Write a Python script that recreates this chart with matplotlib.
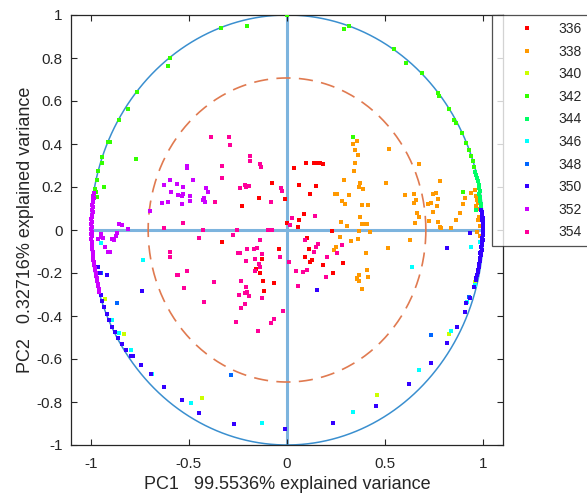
import numpy as np
import matplotlib
matplotlib.use("Agg")
import matplotlib.pyplot as plt
from matplotlib.lines import Line2D

plt.rcParams['font.family'] = ['Liberation Sans', 'DejaVu Sans']

labels = ['336', '338', '340', '342', '344', '346', '348', '350', '352', '354']
colors = ['#ff0000', '#ff9900', '#ccff00', '#33ff00', '#00ff66',
          '#00ffff', '#0066ff', '#3300ff', '#cc00ff', '#ff0099']

g336 = [(-0.074, 0.217), (-0.141, 0.150), (-0.228, 0.113), (-0.009, 0.144), (0.001, 0.031),
        (0.035, 0.290), (0.099, 0.310), (0.135, 0.313), (0.157, 0.313), (0.169, 0.310),
        (0.182, 0.306), (0.060, 0.209), (0.150, 0.206), (0.115, 0.167), (0.086, 0.073),
        (0.060, 0.045), (0.057, 0.014), (-0.330, -0.056), (-0.042, -0.088), (-0.125, -0.133),
        (-0.157, -0.183), (-0.135, -0.200), (-0.123, -0.236), (-0.064, -0.248), (-0.115, -0.282),
        (0.104, -0.036), (0.111, -0.090), (0.091, -0.124), (0.115, -0.147), (0.126, -0.138),
        (0.182, -0.163), (0.230, -0.006), (0.286, -0.152), (0.232, -0.199)]

g338 = [(0.359, 0.415), (0.338, 0.400), (0.347, 0.374), (0.364, 0.349), (0.520, 0.378),
        (0.671, 0.307), (0.345, 0.313), (0.340, 0.273), (0.289, 0.231), (0.372, 0.220),
        (0.367, 0.200), (0.389, 0.192), (0.503, 0.217), (0.243, 0.167), (0.257, 0.167),
        (0.316, 0.164), (0.279, 0.135), (0.296, 0.119), (0.384, 0.116), (0.413, 0.115),
        (0.600, 0.163), (0.649, 0.167), (0.657, 0.141), (0.649, 0.127), (0.778, 0.228),
        (0.746, 0.167), (0.759, 0.174), (0.771, 0.146), (0.734, 0.127), (0.718, 0.120),
        (0.764, 0.110), (0.746, 0.082), (0.661, 0.079), (0.673, 0.059), (0.725, 0.043),
        (0.768, 0.039), (0.372, 0.060), (0.274, 0.036), (0.308, 0.020), (0.381, 0.029),
        (0.396, 0.026), (0.408, 0.028), (0.652, 0.033), (0.780, 0.013), (0.272, -0.031),
        (0.325, -0.050), (0.362, -0.043), (0.367, -0.003), (0.425, -0.009), (0.250, -0.081),
        (0.238, -0.093), (0.401, -0.107), (0.515, -0.084), (0.627, -0.045), (0.406, -0.186),
        (0.367, -0.208), (0.357, -0.223), (0.354, -0.226), (0.366, -0.239), (0.413, -0.219),
        (0.384, -0.274), (0.937, 0.171), (0.908, 0.147), (0.897, 0.121), (0.883, 0.078),
        (0.863, 0.047), (0.836, 0.008), (0.786, 0.008), (0.972, 0.150), (0.968, 0.138),
        (0.975, 0.125), (0.962, 0.112), (0.978, 0.100), (0.980, 0.060), (0.975, 0.045),
        (0.982, 0.020), (0.970, -0.010), (0.985, -0.030), (0.955, 0.185), (0.965, 0.160)]

g340 = [(-0.929, -0.322), (-0.828, -0.486), (-0.432, -0.783), (0.457, -0.767),
        (0.827, -0.482), (0.955, -0.240)]

g342 = [(0.000, 1.000), (-0.203, 0.950), (-0.338, 0.938), (-0.598, 0.799), (-0.607, 0.764),
        (-0.762, 0.643), (-0.808, 0.561), (-0.856, 0.512), (-0.902, 0.411), (-0.912, 0.408),
        (-0.940, 0.338), (-0.944, 0.310), (-0.963, 0.276), (-0.969, 0.233), (-0.978, 0.192),
        (-0.932, 0.201), (-0.966, 0.155), (-0.771, 0.329), (0.289, 0.933), (0.315, 0.949),
        (0.544, 0.840), (0.608, 0.775), (0.685, 0.729), (0.769, 0.636), (0.775, 0.623),
        (0.827, 0.561), (0.849, 0.512), (0.863, 0.499), (0.891, 0.450), (0.912, 0.406),
        (0.925, 0.372), (0.937, 0.344), (0.946, 0.321), (0.951, 0.294), (0.897, 0.178),
        (0.337, 0.431), (-0.975, 0.175)]

g344 = [(0.959, 0.271), (0.963, 0.257), (0.968, 0.242), (0.971, 0.226), (0.976, 0.211),
        (0.977, 0.196), (0.981, 0.182), (0.980, 0.166), (0.985, 0.152), (0.984, 0.137),
        (0.988, 0.121), (0.989, 0.106), (0.964, 0.093)]

g346 = [(-0.732, -0.140), (-0.949, -0.062), (-0.893, -0.419), (-0.856, -0.481), (-0.796, -0.558),
        (-0.685, -0.672), (-0.488, -0.803), (-0.126, -0.899), (0.335, -0.845), (0.671, -0.651),
        (0.837, -0.468), (0.917, -0.333), (0.956, -0.256), (0.637, -0.171), (0.937, -0.081),
        (0.981, -0.054)]

g348 = [(-0.864, -0.341), (-0.284, -0.674), (0.735, -0.488), (-0.948, -0.198), (0.925, -0.310)]

g350 = [(-0.961, -0.171), (-0.919, -0.209), (-0.954, -0.199), (-0.737, -0.282), (-0.949, -0.304),
        (-0.940, -0.330), (-0.930, -0.360), (-0.918, -0.390), (-0.905, -0.420), (-0.890, -0.450),
        (-0.875, -0.475), (-0.860, -0.500), (-0.840, -0.530), (-0.820, -0.560), (-0.796, -0.588),
        (-0.746, -0.628), (-0.691, -0.671), (-0.627, -0.729), (-0.533, -0.791), (-0.449, -0.853),
        (-0.271, -0.902), (-0.008, -0.926), (-0.783, -0.586), (0.152, -0.281), (0.815, -0.085),
        (0.930, -0.016), (0.981, -0.108), (0.985, -0.132), (0.978, -0.171), (0.971, -0.194),
        (0.961, -0.233), (0.951, -0.264), (0.934, -0.318), (0.912, -0.341), (0.905, -0.380),
        (0.866, -0.450), (0.815, -0.527), (0.735, -0.620), (0.620, -0.718), (0.455, -0.819),
        (0.232, -0.896), (0.990, 0.095), (0.993, 0.085), (0.995, 0.075), (0.992, 0.065),
        (0.997, 0.055), (0.994, 0.045), (0.998, 0.035), (0.996, 0.025), (0.999, 0.015),
        (0.997, 0.005), (0.999, -0.005), (0.996, -0.015), (0.998, -0.025), (0.994, -0.035),
        (0.997, -0.045), (0.992, -0.058), (0.995, -0.068), (0.990, -0.080), (0.993, -0.092),
        (0.986, -0.100), (0.988, -0.118), (0.983, -0.145), (0.980, -0.160), (0.975, -0.185),
        (0.968, -0.210), (0.965, -0.222)]

g352 = [(-0.511, 0.296), (-0.511, 0.287), (-0.596, 0.234), (-0.625, 0.211), (-0.561, 0.212),
        (-0.532, 0.201), (-0.477, 0.231), (-0.593, 0.178), (-0.554, 0.164), (-0.535, 0.157),
        (-0.530, 0.166), (-0.496, 0.160), (-0.415, 0.197), (-0.400, 0.178), (-0.639, 0.124),
        (-0.607, 0.132), (-0.533, 0.122), (-0.495, 0.133), (-0.428, 0.140), (-0.423, 0.147),
        (-0.420, 0.129), (-0.698, 0.087), (-0.856, 0.028), (-0.839, 0.022), (-0.808, 0.006),
        (-0.949, -0.031), (-0.935, -0.035), (-0.893, -0.043), (-0.881, -0.047), (-0.870, -0.030),
        (-0.866, -0.016), (-0.927, -0.078), (-0.910, -0.101), (-0.902, -0.104), (-0.960, -0.040),
        (-0.945, -0.020), (-0.985, 0.172), (-0.987, 0.160), (-0.984, 0.150), (-0.989, 0.140),
        (-0.986, 0.128), (-0.991, 0.118), (-0.988, 0.106), (-0.993, 0.095), (-0.990, 0.083),
        (-0.994, 0.072), (-0.991, 0.060), (-0.996, 0.050), (-0.993, 0.038), (-0.997, 0.027),
        (-0.994, 0.015), (-0.998, 0.005), (-0.995, -0.008), (-0.998, -0.018), (-0.994, -0.030),
        (-0.997, -0.042), (-0.993, -0.055), (-0.995, -0.066), (-0.991, -0.078), (-0.993, -0.090),
        (-0.989, -0.102), (-0.990, -0.114), (-0.986, -0.126), (-0.987, -0.138), (-0.982, -0.150),
        (-0.983, -0.162), (-0.978, -0.176), (-0.979, -0.188), (-0.974, -0.200), (-0.975, -0.212),
        (-0.970, -0.225), (-0.969, -0.238), (-0.965, -0.250), (-0.964, -0.262), (-0.958, -0.275),
        (-0.957, -0.288)]

g354 = [(-0.389, 0.433), (-0.296, 0.431), (-0.291, 0.395), (-0.189, 0.343), (-0.187, 0.322),
        (-0.138, 0.307), (-0.133, 0.293), (-0.333, 0.296), (-0.333, 0.243), (-0.237, 0.195),
        (-0.215, 0.209), (-0.210, 0.200), (-0.191, 0.206), (-0.030, 0.194), (-0.023, 0.183),
        (-0.369, 0.132), (-0.084, 0.132), (-0.528, 0.033), (-0.625, 0.011), (-0.427, 0.000),
        (-0.253, 0.000), (-0.096, 0.000), (-0.075, 0.000), (-0.274, -0.022), (-0.449, -0.036),
        (-0.140, -0.047), (-0.596, -0.104), (-0.598, -0.124), (-0.250, -0.108), (-0.237, -0.108),
        (-0.203, -0.090), (-0.167, -0.087), (-0.152, -0.084), (-0.125, -0.112), (-0.208, -0.144),
        (-0.165, -0.136), (-0.141, -0.158), (-0.138, -0.171), (-0.165, -0.192), (-0.037, -0.124),
        (0.009, -0.149), (-0.561, -0.211), (-0.556, -0.211), (-0.510, -0.191), (-0.523, -0.268),
        (-0.374, -0.242), (-0.235, -0.237), (-0.211, -0.266), (-0.216, -0.291), (-0.203, -0.288),
        (-0.242, -0.302), (-0.194, -0.307), (-0.125, -0.318), (-0.216, -0.343), (-0.235, -0.363),
        (-0.425, -0.336), (-0.019, -0.375), (-0.064, -0.414), (-0.080, -0.433), (-0.262, -0.429),
        (-0.149, -0.468), (0.141, 0.067), (0.023, 0.057), (0.014, 0.023), (0.094, -0.047),
        (0.160, -0.065), (0.149, -0.079), (0.140, -0.101), (0.205, -0.127), (0.281, -0.068),
        (0.255, -0.107), (0.048, -0.189), (0.079, -0.197), (0.104, -0.185), (0.201, -0.219),
        (0.055, -0.262)]

groups = [g336, g338, g340, g342, g344, g346, g348, g350, g352, g354]

xticks = [-1, -0.5, 0, 0.5, 1]
xticklabels = ['-1', '-0.5', '0', '0.5', '1']
yticks = [-1, -0.8, -0.6, -0.4, -0.2, 0, 0.2, 0.4, 0.6, 0.8, 1]
yticklabels = ['-1', '-0.8', '-0.6', '-0.4', '-0.2', '0', '0.2', '0.4', '0.6', '0.8', '1']
xlabel = 'PC1   99.5536% explained variance'
ylabel = 'PC2   0.32716% explained variance'

fig = plt.figure(figsize=(5.87, 5.00), dpi=100)
ax = fig.add_axes([71 / 587, 55 / 500, 432 / 587, 430 / 500])

theta = np.linspace(0, 2 * np.pi, 400)
ax.plot([-1, 1], [0, 0], color='#7db4de', lw=2.2, zorder=1)
ax.plot([0, 0], [-1, 1], color='#7db4de', lw=2.2, zorder=1)
ax.plot(np.cos(theta), np.sin(theta), color='#3a8fcf', lw=1.1, zorder=2)
r = np.sqrt(0.5)
ax.plot(r * np.cos(theta), r * np.sin(theta), color='#e07a50', lw=1.2,
        dashes=(8.5, 5), zorder=2)

for g, c, lab in zip(groups, colors, labels):
    gx = [p[0] for p in g]
    gy = [p[1] for p in g]
    ax.plot(gx, gy, ls='none', marker='s', ms=2.6, mew=0, color=c, zorder=3, label=lab)

ax.set_xlim(-1.1, 1.1)
ax.set_ylim(-1, 1)
ax.set_xticks(xticks)
ax.set_xticklabels(xticklabels)
ax.set_yticks(yticks)
ax.set_yticklabels(yticklabels)
ax.tick_params(direction='in', length=4, width=0.8, colors='#262626', labelsize=11,
               top=True, right=True)
ax.tick_params(axis='x', pad=9)
ax.tick_params(axis='y', pad=6)
for s in ax.spines.values():
    s.set_color('#262626')
    s.set_linewidth(0.9)
ax.set_xlabel(xlabel, fontsize=13, color='#262626', labelpad=3)
ax.set_ylabel(ylabel, fontsize=13, color='#262626', labelpad=2)

handles = [Line2D([], [], ls='none', marker='s', ms=2.4, mew=0, color=c) for c in colors]
leg = fig.legend(handles, labels, loc='upper left', bbox_to_anchor=(492 / 587, 485 / 500),
                 borderaxespad=0, frameon=True, fancybox=False, fontsize=10,
                 handlelength=4.0, handletextpad=0.3, labelspacing=0.62, borderpad=0.5)
leg.get_frame().set_edgecolor('#262626')
leg.get_frame().set_linewidth(0.9)
for t in leg.get_texts():
    t.set_color('#262626')

fig.savefig('out.png', dpi=100)
